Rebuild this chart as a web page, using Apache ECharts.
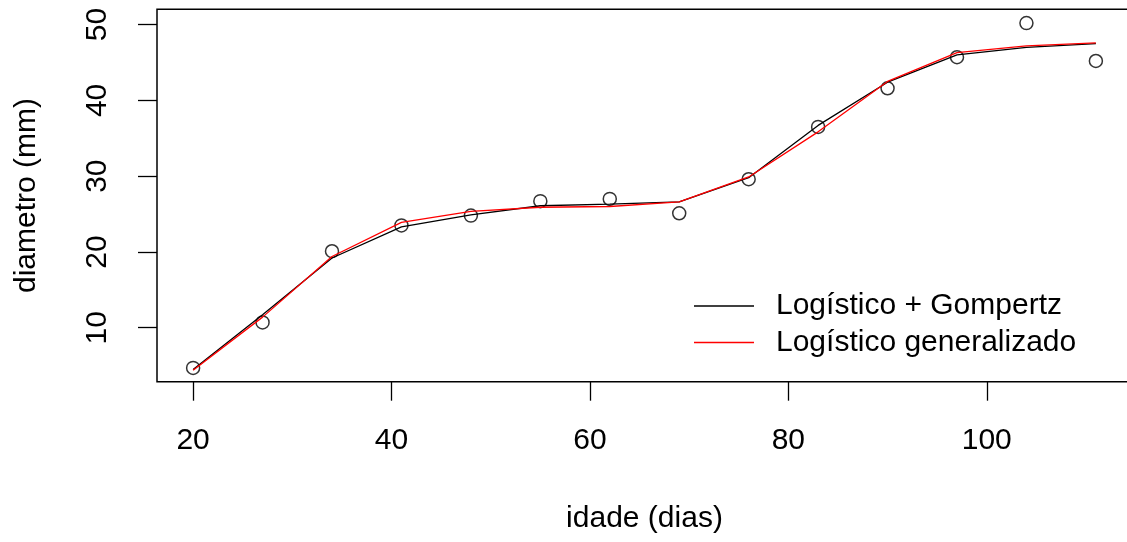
<!DOCTYPE html>
<html>
<head>
<meta charset="utf-8">
<script src="https://cdn.jsdelivr.net/npm/echarts@6/dist/echarts.min.js"></script>
<style>
html,body{margin:0;padding:0;background:#fff;}
#chart{width:1127px;height:542px;}
</style>
</head>
<body>
<div id="chart"></div>
<script>
const idade = [20, 27, 34, 41, 48, 55, 62, 69, 76, 83, 90, 97, 104, 111];
const diametro = [4.7, 10.7, 20.1, 23.5, 24.8, 26.7, 27.0, 25.1, 29.6, 36.5, 41.6, 45.7, 50.2, 45.2];
const logisticoGompertz = [4.5, 11.7, 19.2, 23.3, 24.9, 26.1, 26.3, 26.6, 29.8, 36.7, 42.4, 46.0, 47.0, 47.5];
const logisticoGeneralizado = [4.4, 11.4, 19.4, 23.9, 25.35, 25.9, 26.0, 26.6, 29.9, 35.85, 42.5, 46.3, 47.2, 47.6];
const xTicks = [20, 40, 60, 80, 100];
const yTicks = [10, 20, 30, 40, 50];
const seriesNames = ['Logístico + Gompertz', 'Logístico generalizado'];

function pairs(xs, ys) { return xs.map((x, i) => [x, ys[i]]); }
function ext(arr) {
  const mn = Math.min(...arr), mx = Math.max(...arr), r = mx - mn;
  return [mn - 0.04 * r, mx + 0.04 * r];
}
const xr = ext(idade), yr = ext(diametro);
const font = 'Liberation Sans, Arial, sans-serif';

const chart = echarts.init(document.getElementById('chart'));
chart.setOption({
  animation: false,
  backgroundColor: '#fff',
  grid: {
    left: 157, top: 9.3, width: 975, height: 372.4,
    outerBoundsMode: 'none', containLabel: false,
    show: true, borderColor: '#000', borderWidth: 1.5, backgroundColor: 'transparent'
  },
  legend: {
    orient: 'vertical', left: 689, top: 286,
    icon: 'rect', itemWidth: 60, itemHeight: 1.5, itemGap: 6.5,
    textStyle: { fontFamily: font, fontSize: 30, color: '#000', padding: [0, 0, 0, 17] },
    data: seriesNames
  },
  xAxis: {
    type: 'value', min: xr[0], max: xr[1],
    name: 'idade (dias)', nameLocation: 'middle', nameGap: 122,
    nameTextStyle: { fontFamily: font, fontSize: 30, color: '#000' },
    axisLine: { show: false },
    splitLine: { show: false },
    axisTick: { show: true, inside: false, length: 19, customValues: xTicks, lineStyle: { color: '#000', width: 1.3 } },
    axisLabel: { customValues: xTicks, margin: 44, fontFamily: font, fontSize: 30, color: '#000' }
  },
  yAxis: {
    type: 'value', min: yr[0], max: yr[1],
    name: 'diametro (mm)', nameLocation: 'middle', nameGap: 115, nameRotate: 90,
    nameTextStyle: { fontFamily: font, fontSize: 30, color: '#000' },
    axisLine: { show: false },
    splitLine: { show: false },
    axisTick: { show: true, inside: false, length: 19, customValues: yTicks, lineStyle: { color: '#000', width: 1.3 } },
    axisLabel: { customValues: yTicks, rotate: 90, margin: 44, fontFamily: font, fontSize: 30, color: '#000' }
  },
  series: [
    {
      type: 'scatter', name: 'obs', data: pairs(idade, diametro),
      symbol: 'circle', symbolSize: 13,
      itemStyle: { color: 'rgba(0,0,0,0)', borderColor: '#000', borderWidth: 1.5 },
      z: 2
    },
    {
      type: 'line', name: seriesNames[0], data: pairs(idade, logisticoGompertz),
      showSymbol: false, symbol: 'none', color: '#000',
      lineStyle: { color: '#000', width: 1.3 }, z: 3
    },
    {
      type: 'line', name: seriesNames[1], data: pairs(idade, logisticoGeneralizado),
      showSymbol: false, symbol: 'none', color: '#ff0000',
      lineStyle: { color: '#ff0000', width: 1.3 }, z: 4
    }
  ]
});
</script>
</body>
</html>
